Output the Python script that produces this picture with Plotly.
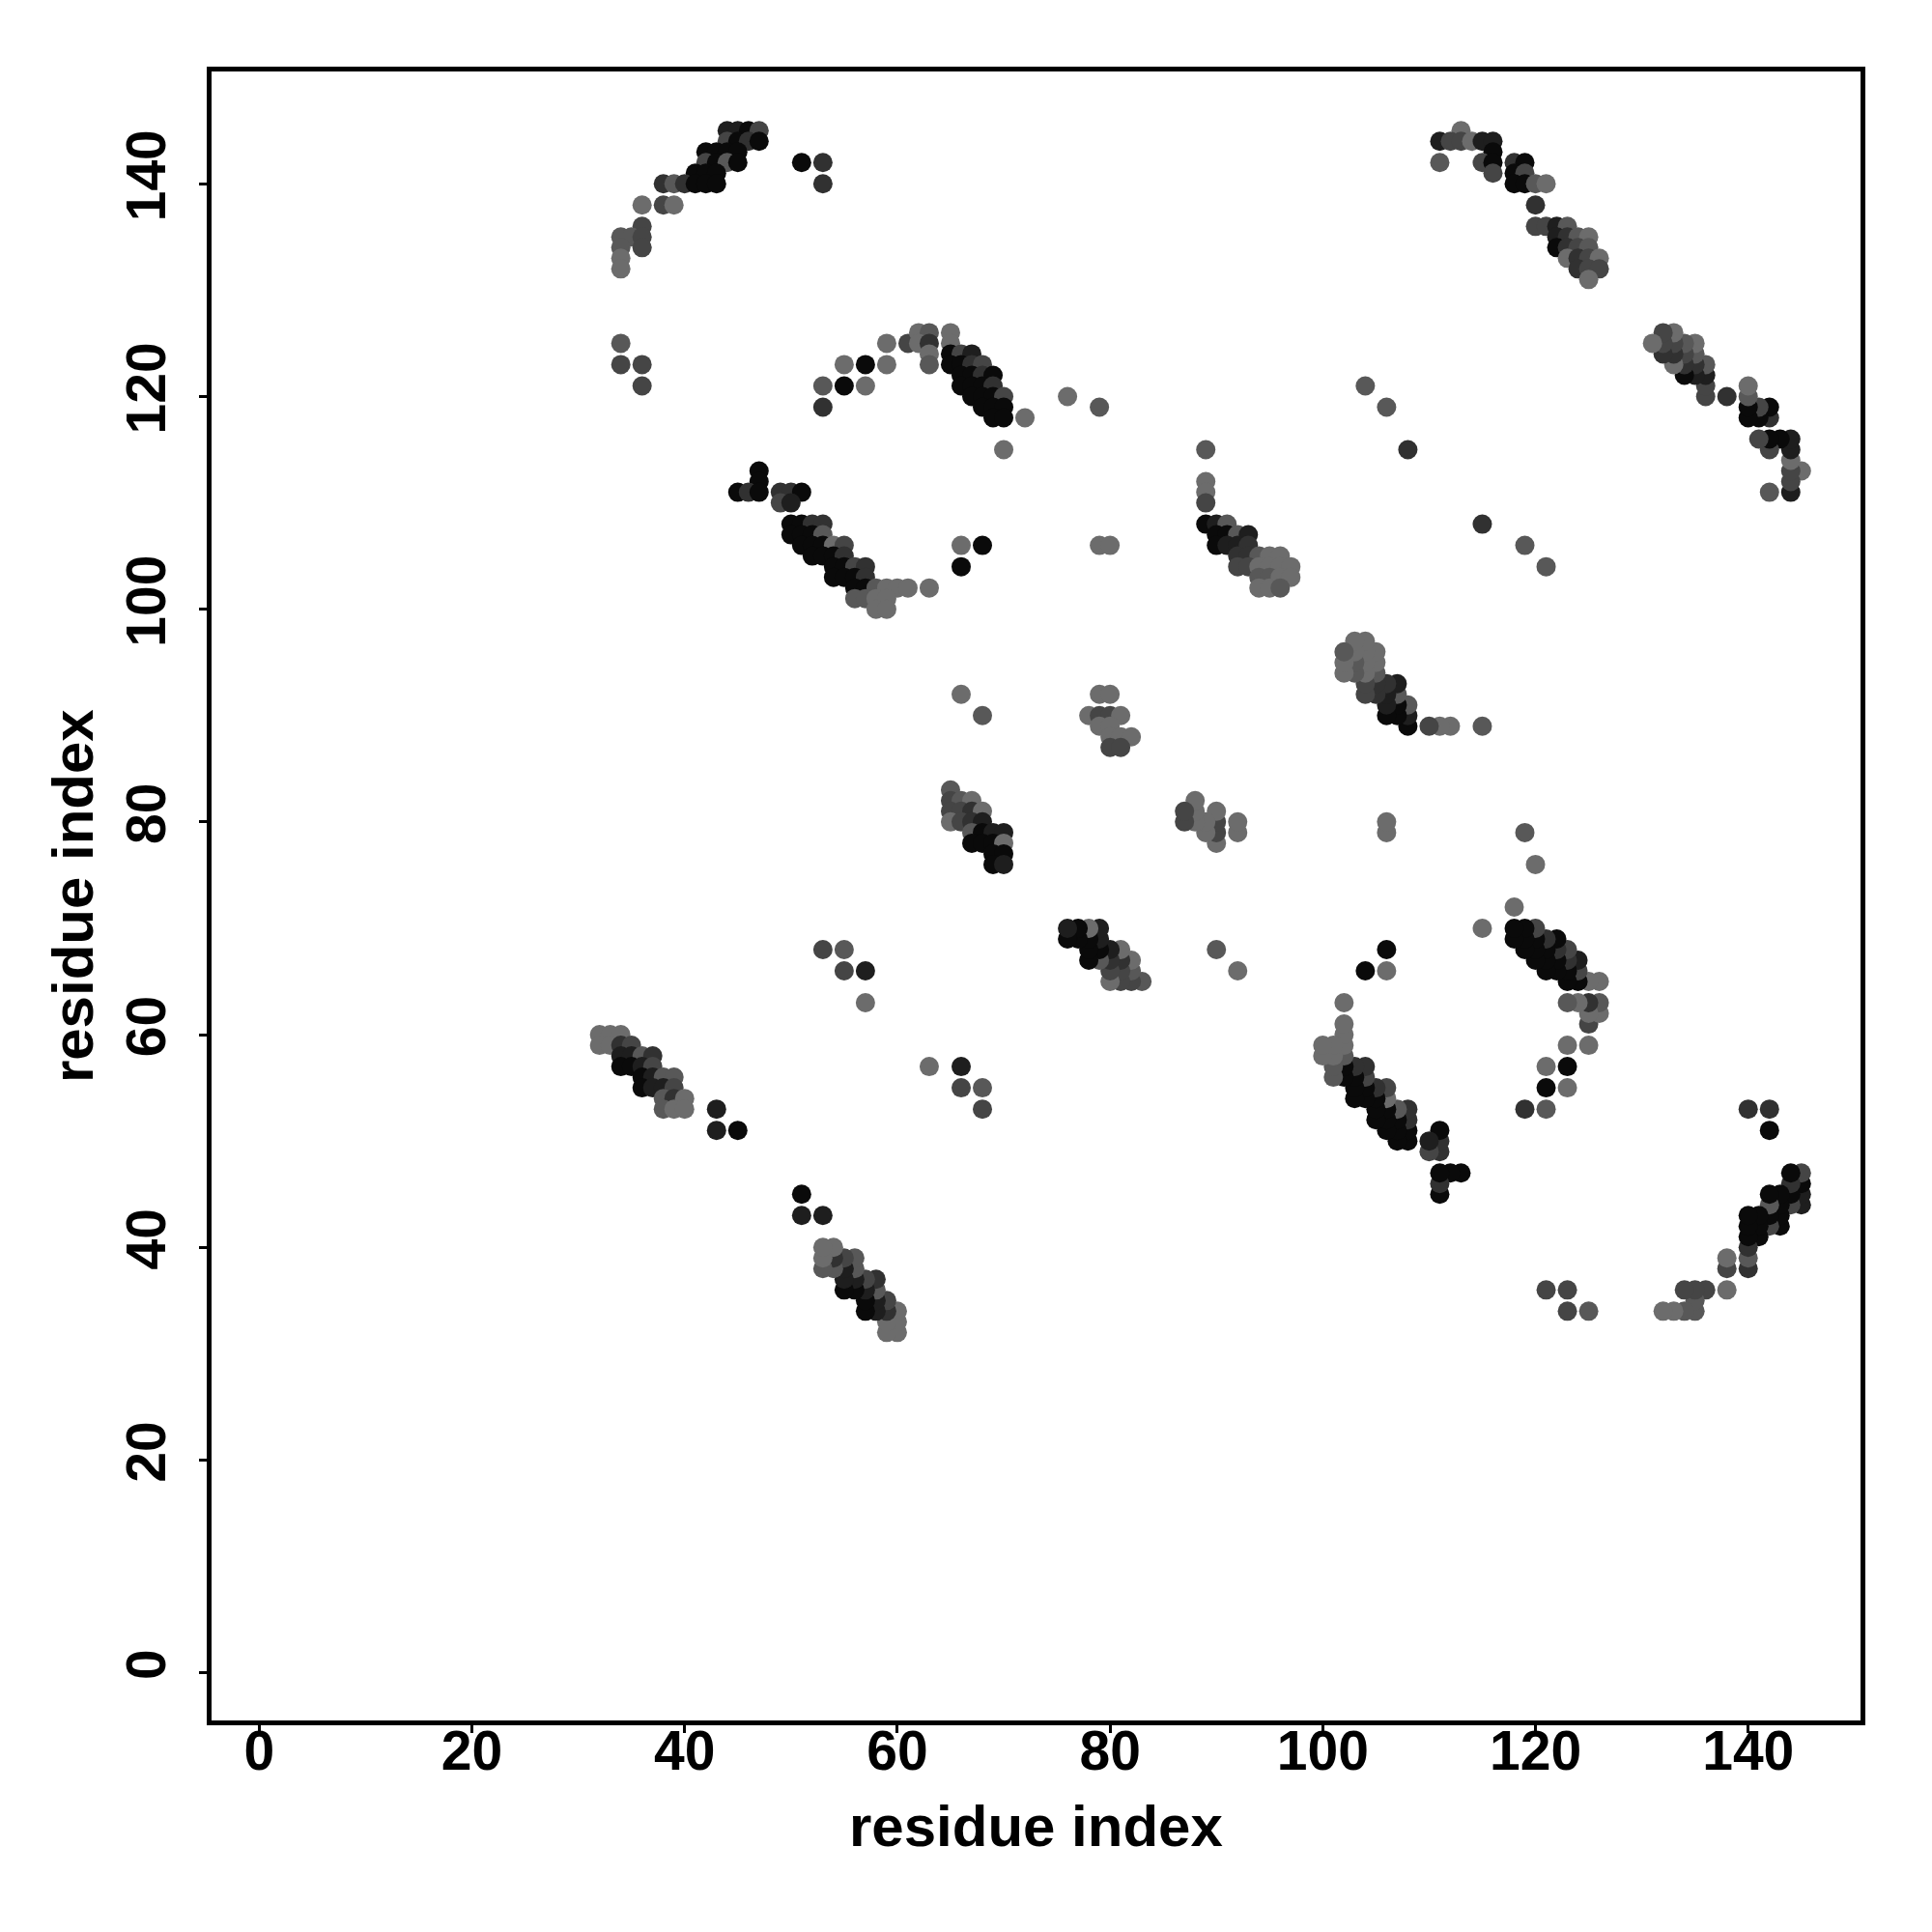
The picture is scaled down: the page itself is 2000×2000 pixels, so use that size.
import plotly.graph_objects as go

# Contact map (symmetric). Each contact (i, j) with i < j, plus a gray level
# 0 = darkest ... 5 = lightest.
contact_i = [
    # upper-left strand pairing
    44, 45, 46, 47, 44, 45, 46, 47, 42, 43, 44, 45, 42, 43, 44, 45, 41, 42, 43,
    38, 39, 40, 41, 42, 43, 36, 38, 39, 36, 34, 35, 36, 34, 36, 34, 34,
    51, 53, 53, 34, 34, 36, 36,
    # 53-72 x 115-126
    53, 55, 57, 53, 55, 57, 59, 59, 61, 62, 63, 62, 63, 63, 63, 65, 65,
    65, 66, 67, 65, 66, 67, 68, 66, 67, 68, 69, 66, 67, 68, 69,
    67, 68, 69, 70, 68, 69, 70, 69, 70,
    72, 70, 76, 79,
    # 45-63 x 100-113
    47, 47, 45, 46, 47, 49, 50, 51, 49, 50,
    50, 51, 52, 53, 50, 51, 52, 53, 51, 52, 53, 54, 55,
    52, 53, 54, 55, 54, 55, 56, 57, 54, 55, 56, 57,
    56, 57, 58, 59, 60, 61, 63, 56, 57, 58, 59, 58, 59,
    66, 68, 66, 79, 80,
    # 89-97 x 102-115
    89, 89, 89, 89, 89, 90, 91, 90, 91, 92, 93, 90, 91, 92, 93,
    92, 93, 94, 95, 96, 92, 93, 94, 95, 96, 97, 94, 95, 96, 97, 94, 95, 96,
    104, 106, 108,
    # 111-126 x 131-145
    113, 111, 112, 113, 114, 115, 116, 116, 111, 115, 116, 118, 119,
    116, 118, 119, 118, 119, 120, 121, 120, 120, 121, 122, 123,
    122, 123, 124, 125, 122, 123, 124, 125, 123, 124, 125, 126, 124, 125, 126, 125,
    # 65-82 x 76-92
    66, 68, 79, 80, 78, 79, 80, 81, 79, 80, 80, 81, 82, 80, 81,
    65, 65, 66, 67, 65, 66, 67, 68, 65, 66, 67, 68, 67, 68, 69, 70,
    67, 68, 69, 70, 69, 70, 69, 70,
    # 53-57 x 63-68
    53, 55, 55, 57, 57,
    # 32-45 x 51-60
    32, 33, 34, 32, 33, 34, 35, 34, 35, 36, 37, 34, 35, 36, 37,
    36, 37, 38, 39, 36, 37, 38, 39, 38, 39, 40, 38, 39, 40,
    43, 43, 45,
]
contact_j = [
    145, 145, 145, 145, 144, 144, 144, 144, 143, 143, 143, 143, 142, 142, 142, 142, 141, 141, 141,
    140, 140, 140, 140, 140, 140, 138, 138, 138, 136, 135, 135, 135, 134, 134, 133, 132,
    142, 142, 140, 125, 123, 123, 121,
    121, 121, 121, 119, 123, 123, 123, 125, 125, 126, 126, 125, 125, 124, 123, 126, 125,
    124, 124, 124, 123, 123, 123, 123, 122, 122, 122, 122, 121, 121, 121, 121,
    120, 120, 120, 120, 119, 119, 119, 118, 118,
    118, 115, 120, 119,
    113, 112, 111, 111, 111, 111, 111, 111, 110, 110,
    108, 108, 108, 108, 107, 107, 107, 107, 106, 106, 106, 106, 106,
    105, 105, 105, 105, 104, 104, 104, 104, 103, 103, 103, 103,
    102, 102, 102, 102, 102, 102, 102, 101, 101, 101, 101, 100, 100,
    106, 106, 104, 106, 106,
    115, 112, 111, 110, 108, 108, 108, 107, 107, 107, 107, 106, 106, 106, 106,
    105, 105, 105, 105, 105, 104, 104, 104, 104, 104, 104, 103, 103, 103, 103, 102, 102, 102,
    121, 119, 115,
    145, 144, 144, 144, 144, 144, 144, 143, 142, 142, 142, 142, 142,
    141, 141, 141, 140, 140, 140, 140, 138, 136, 136, 136, 136,
    135, 135, 135, 135, 134, 134, 134, 134, 133, 133, 133, 133, 132, 132, 132, 131,
    92, 90, 92, 92, 90, 90, 90, 90, 89, 89, 88, 88, 88, 87, 87,
    83, 82, 82, 82, 81, 81, 81, 81, 80, 80, 80, 80, 79, 79, 79, 79,
    78, 78, 78, 78, 77, 77, 76, 76,
    68, 68, 66, 66, 63,
    60, 60, 60, 59, 59, 59, 59, 58, 58, 58, 58, 57, 57, 57, 57,
    56, 56, 56, 56, 55, 55, 55, 55, 54, 54, 54, 53, 53, 53,
    53, 51, 51,
]
contact_shade = [
    1, 1, 0, 3, 3, 0, 2, 0, 0, 0, 0, 0, 3, 0, 4, 0, 0, 0, 0,
    2, 4, 2, 0, 0, 0, 5, 3, 5, 3, 4, 4, 3, 4, 3, 5, 5,
    0, 2, 2, 4, 3, 3, 3,
    4, 0, 5, 2, 5, 0, 5, 5, 3, 5, 4, 5, 2, 5, 4, 5, 5,
    0, 3, 1, 0, 0, 2, 3, 0, 0, 2, 0, 0, 0, 0, 2,
    0, 0, 0, 3, 0, 0, 0, 0, 0,
    5, 5, 5, 4,
    0, 0, 0, 2, 0, 2, 2, 0, 3, 1,
    0, 0, 2, 2, 0, 0, 0, 4, 0, 0, 0, 5, 3,
    0, 0, 0, 2, 0, 0, 3, 2, 0, 0, 0, 2,
    0, 0, 4, 5, 5, 5, 5, 4, 4, 5, 5, 5, 5,
    5, 0, 0, 5, 5,
    4, 5, 5, 3, 0, 1, 4, 0, 0, 4, 1, 0, 1, 1, 2,
    2, 2, 4, 5, 5, 3, 3, 5, 5, 5, 5, 4, 4, 5, 5, 5, 5, 4,
    4, 4, 2,
    5, 1, 3, 3, 5, 1, 1, 0, 4, 3, 0, 2, 0,
    3, 0, 3, 0, 0, 4, 5, 2, 3, 3, 1, 4,
    1, 2, 4, 5, 0, 2, 3, 4, 5, 2, 3, 5, 2, 3, 3, 5,
    5, 4, 5, 5, 5, 3, 3, 5, 5, 5, 5, 5, 5, 3, 3,
    4, 3, 4, 5, 3, 3, 2, 5, 5, 3, 2, 1, 4, 0, 1, 1,
    0, 0, 0, 5, 0, 0, 0, 1,
    3, 4, 3, 1, 5,
    5, 5, 5, 5, 5, 2, 3, 1, 1, 4, 2, 0, 0, 1, 3,
    0, 1, 4, 4, 0, 1, 1, 3, 4, 2, 5, 4, 5, 5,
    1, 1, 0,
]

tick_values = [0, 20, 40, 60, 80, 100, 120, 140]
axis_range = [-4.48, 150.56]
axis_title = "residue index"

# the map is symmetric: each contact is shown at (i, j) and (j, i)
xs = contact_i + contact_j
ys = contact_j + contact_i
cs = contact_shade + contact_shade

fig = go.Figure(
    go.Scatter(
        x=xs, y=ys, mode="markers",
        marker=dict(
            size=20, color=cs, cmin=0, cmax=5,
            colorscale=[[0, "rgb(10,10,10)"], [1, "rgb(108,108,108)"]],
            line=dict(width=0),
        ),
        hoverinfo="x+y",
    )
)

font_family = "Liberation Sans, Arial, Helvetica, sans-serif"
tick_font = dict(family=font_family, size=57, color="black", weight="bold")
title_font = dict(family=font_family, size=60, color="black", weight="bold")
axis_common = dict(
    range=axis_range, tickvals=tick_values, ticks="outside", ticklen=8, tickwidth=3,
    tickcolor="black", showline=True, linewidth=5, linecolor="black", mirror=True,
    showgrid=False, zeroline=False, tickfont=tick_font,
)

fig.update_layout(
    width=2000, height=2000,
    margin=dict(l=211, r=82, t=66, b=227, autoexpand=False),
    plot_bgcolor="white", paper_bgcolor="white",
    showlegend=False,
    xaxis=dict(**axis_common, ticklabelstandoff=-30),
    yaxis=dict(**axis_common, tickangle=-90, ticklabelstandoff=12),
    annotations=[
        dict(text=axis_title, xref="paper", yref="paper", x=0.5, y=-0.064,
             xanchor="center", yanchor="middle", showarrow=False,
             font=title_font),
        dict(text=axis_title, xref="paper", yref="paper", x=-0.084, y=0.5,
             xanchor="center", yanchor="middle", textangle=-90, showarrow=False,
             font=title_font),
    ],
)

fig.write_html("out.html")
